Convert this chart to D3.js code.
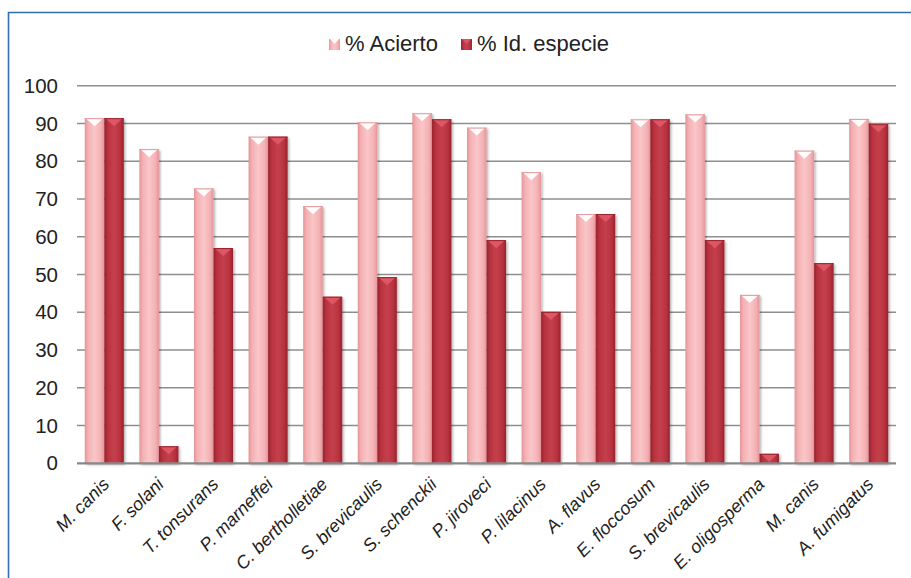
<!DOCTYPE html>
<html>
<head>
<meta charset="utf-8">
<script src="https://cdn.jsdelivr.net/npm/d3@7"></script>
<style>
  html, body { margin: 0; padding: 0; background: #fff; }
  svg { display: block; font-family: "Liberation Sans", Arial, sans-serif; }
</style>
</head>
<body>
<svg id="chart" width="911" height="578"></svg>
<script>
// Species identified in the study
const categories = [
  "M. canis", "F. solani", "T. tonsurans", "P. marneffei", "C. bertholletiae",
  "S. brevicaulis", "S. schenckii", "P. jiroveci", "P. lilacinus", "A. flavus",
  "E. floccosum", "S. brevicaulis ", "E. oligosperma", "M. canis ", "A. fumigatus"
];
// Percentage of correct answers
const acierto = [91.4, 83.2, 72.8, 86.5, 68.1, 90.3, 92.7, 88.9, 77.1, 66.0, 91.1, 92.4, 44.6, 82.8, 91.2];
// Percentage identified to species level
const idEspecie = [91.4, 4.5, 57.0, 86.5, 44.1, 49.3, 91.1, 59.1, 40.1, 66.0, 91.1, 59.1, 2.5, 53.0, 89.8];
const seriesNames = ["% Acierto", "% Id. especie"];
const yTicks = [0, 10, 20, 30, 40, 50, 60, 70, 80, 90, 100];

const seriesColors = [
  { base: "#f5b1b4", edge: "#e49599", light: "#f9c6c8", cap: "#ffffff" },
  { base: "#b8323f", edge: "#98222f", light: "#c4404c", cap: "#e05866" }
];

const svg = d3.select("#chart");
const defs = svg.append("defs");

// Horizontal shading for the cylindrical bar look
seriesColors.forEach((c, i) => {
  const g = defs.append("linearGradient").attr("id", "grad" + i)
    .attr("x1", "0%").attr("x2", "100%").attr("y1", "0%").attr("y2", "0%");
  g.append("stop").attr("offset", "0%").attr("stop-color", c.edge);
  g.append("stop").attr("offset", "18%").attr("stop-color", c.base);
  g.append("stop").attr("offset", "50%").attr("stop-color", c.light);
  g.append("stop").attr("offset", "82%").attr("stop-color", c.base);
  g.append("stop").attr("offset", "100%").attr("stop-color", c.edge);
});
const shadow = defs.append("filter").attr("id", "shadow")
  .attr("x", "-30%").attr("y", "-10%").attr("width", "160%").attr("height", "130%");
shadow.append("feDropShadow").attr("dx", 1.5).attr("dy", 1.5)
  .attr("stdDeviation", 1.2).attr("flood-color", "#000").attr("flood-opacity", 0.3);

// Outer frame
svg.append("path")
  .attr("d", "M8.5,578 L8.5,12.5 L911,12.5")
  .attr("fill", "none").attr("stroke", "#2f6eb0").attr("stroke-width", 1.6);

const plotLeft = 77, plotRight = 896, plotTop = 85.7, plotBottom = 463.3;

const x = d3.scaleBand().domain(categories).range([plotLeft, plotRight])
  .paddingInner(0.285).paddingOuter(0.1425);
const xs = d3.scaleBand().domain([0, 1]).range([0, x.bandwidth()]);
const y = d3.scaleLinear().domain([0, 100]).range([plotBottom, plotTop]);

// Gridlines
svg.append("g").selectAll("line").data(yTicks.filter(t => t > 0)).join("line")
  .attr("x1", plotLeft).attr("x2", plotRight)
  .attr("y1", d => y(d)).attr("y2", d => y(d))
  .attr("stroke", "#8e8e8e").attr("stroke-width", 1.5);

// Y axis labels
const yAxis = d3.axisLeft(y).tickValues(yTicks).tickSize(0).tickPadding(0);
const yg = svg.append("g").attr("transform", `translate(${plotLeft - 19},0)`).call(yAxis);
yg.select(".domain").remove();
yg.selectAll("text").attr("font-size", 20.5).attr("fill", "#222")
  .attr("font-family", "'Liberation Sans', Arial, sans-serif");

// Bars
const data = categories.map((c, i) => ({ cat: c, vals: [acierto[i], idEspecie[i]] }));
const groups = svg.append("g").selectAll("g").data(data).join("g")
  .attr("transform", d => `translate(${x(d.cat)},0)`);

groups.each(function(d) {
  const g = d3.select(this);
  d.vals.forEach((v, s) => {
    const bx = xs(s), bw = xs.bandwidth();
    const by = y(v), bh = y(0) - y(v);
    const c = seriesColors[s];
    const bar = g.append("g").attr("filter", "url(#shadow)");
    bar.append("rect").attr("x", bx).attr("y", by).attr("width", bw).attr("height", bh)
      .attr("fill", `url(#grad${s})`);
    const capDepth = Math.min(8, bh);
    bar.append("path")
      .attr("d", `M${bx + 1},${by} L${bx + bw - 1},${by} L${bx + bw / 2},${by + capDepth} Z`)
      .attr("fill", c.cap).attr("opacity", 0.95);
    bar.append("line").attr("x1", bx).attr("x2", bx + bw).attr("y1", by + 0.5).attr("y2", by + 0.5)
      .attr("stroke", c.edge).attr("stroke-width", 1);
    if (bh > 16) {
      bar.append("path")
        .attr("d", `M${bx + 2},${y(0)} L${bx + bw - 2},${y(0)} L${bx + bw / 2},${y(0) - 6} Z`)
        .attr("fill", c.light).attr("opacity", 0.6);
    }
  });
});

// Baseline
svg.append("line").attr("x1", plotLeft).attr("x2", plotRight)
  .attr("y1", y(0)).attr("y2", y(0))
  .attr("stroke", "#888").attr("stroke-width", 2.2);

// Category labels
svg.append("g").selectAll("text").data(categories).join("text")
  .attr("transform", d => `translate(${x(d) + x.bandwidth() / 2 + 6},${plotBottom + 22}) rotate(-45)`)
  .attr("text-anchor", "end")
  .attr("font-size", 18).attr("font-style", "italic").attr("fill", "#222")
  .text(d => d.trim());

// Legend
const legendItems = [
  { name: seriesNames[0], x: 329 },
  { name: seriesNames[1], x: 461 }
];
const lg = svg.append("g").selectAll("g").data(legendItems).join("g")
  .attr("transform", d => `translate(${d.x},39)`);
lg.append("rect").attr("width", 11).attr("height", 11)
  .attr("fill", (d, i) => `url(#grad${i})`);
lg.append("path").attr("d", "M1,0 L10,0 L5.5,5 Z")
  .attr("fill", (d, i) => seriesColors[i].cap).attr("opacity", 0.9);
lg.append("text").attr("x", 16).attr("y", 12).attr("font-size", 22).attr("fill", "#222")
  .text(d => d.name);
</script>
</body>
</html>
